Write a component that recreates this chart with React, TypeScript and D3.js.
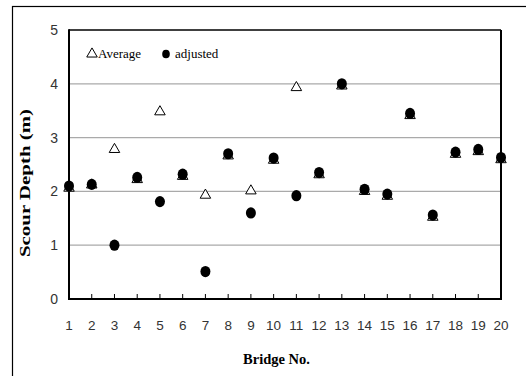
import React from "react";
import * as d3 from "d3";

const bridges = d3.range(1, 21);
const averageValues = [2.06, 2.12, 2.78, 2.22, 3.48, 2.28, 1.93, 2.66, 2.01, 2.58, 3.93, 2.31, 3.96, 2.0, 1.91, 3.41, 1.52, 2.69, 2.74, 2.59];
const adjustedValues = [2.1, 2.13, 1.0, 2.26, 1.81, 2.32, 0.51, 2.7, 1.6, 2.62, 1.92, 2.35, 4.0, 2.04, 1.95, 3.45, 1.56, 2.73, 2.78, 2.63];
const yTicks = [0, 1, 2, 3, 4, 5];

const W = 526;
const H = 376;
const m = { left: 69, right: 501, top: 30, bottom: 299 };

export default function App() {
  const x = d3.scaleLinear().domain([1, 20]).range([m.left, m.right]);
  const y = d3.scaleLinear().domain([0, 5]).range([m.bottom, m.top]);
  const tri = d3.symbol().type(d3.symbolTriangle).size(48);
  const labelFont = "'Liberation Sans', Arial, sans-serif";
  const serif = "'Liberation Serif', 'Times New Roman', serif";

  return (
    <svg width={W} height={H} style={{ position: "absolute", left: 0, top: 0 }}>
      <rect x={0} y={0} width={W} height={H} fill="#fff" />
      <rect x={12.5} y={6.5} width={530} height={400} fill="none" stroke="#000" strokeWidth={1.2} />
      {yTicks.filter((t) => t > 0 && t < 5).map((t) => (
        <line key={t} x1={m.left} x2={m.right} y1={y(t)} y2={y(t)} stroke="#aaa" strokeWidth={1.2} />
      ))}
      {bridges.map((b) => (
        <line key={b} x1={x(b)} x2={x(b)} y1={m.bottom} y2={m.bottom - 5} stroke="#000" strokeWidth={1} />
      ))}
      <line x1={m.left} x2={m.right} y1={m.top} y2={m.top} stroke="#000" strokeWidth={1.5} />
      <line x1={m.right} x2={m.right} y1={m.top} y2={m.bottom} stroke="#000" strokeWidth={2} />
      <line x1={m.left} x2={m.left} y1={m.top - 0.7} y2={m.bottom + 1} stroke="#000" strokeWidth={2} />
      <line x1={m.left - 1} x2={m.right + 1} y1={m.bottom} y2={m.bottom} stroke="#000" strokeWidth={2} />
      {yTicks.map((t) => (
        <text key={t} x={58} y={y(t)} dy="0.36em" textAnchor="end" fontFamily={labelFont} fontSize={14} fill="#333">
          {t}
        </text>
      ))}
      {bridges.map((b) => (
        <text key={b} x={x(b)} y={330} textAnchor="middle" fontFamily={labelFont} fontSize={13.5} fill="#333">
          {b}
        </text>
      ))}
      <text x={276.5} y={364} textAnchor="middle" fontFamily={serif} fontWeight="bold" fontSize={14.5} fill="#000">
        Bridge No.
      </text>
      <text
        transform={`translate(30, 183) rotate(-90)`}
        textAnchor="middle"
        fontFamily={serif}
        fontWeight="bold"
        fontSize={15}
        fill="#000"
        textLength={148}
        lengthAdjust="spacingAndGlyphs"
      >
        Scour Depth (m)
      </text>
      {averageValues.map((v, i) => (
        <path
          key={"a" + i}
          d={tri() as string}
          transform={`translate(${x(bridges[i])},${y(v)})`}
          fill="#fff"
          stroke="#000"
          strokeWidth={1}
        />
      ))}
      {adjustedValues.map((v, i) => (
        <ellipse key={"d" + i} cx={x(bridges[i])} cy={y(v)} rx={5} ry={5.6} fill="#000" />
      ))}
      <path d={tri() as string} transform="translate(92,54)" fill="#fff" stroke="#000" strokeWidth={1} />
      <text x={98} y={58} fontFamily={serif} fontSize={13} fill="#000">Average</text>
      <ellipse cx={166} cy={54} rx={3.8} ry={4.3} fill="#000" />
      <text x={175} y={58} fontFamily={serif} fontSize={13} fill="#000">adjusted</text>
    </svg>
  );
}
